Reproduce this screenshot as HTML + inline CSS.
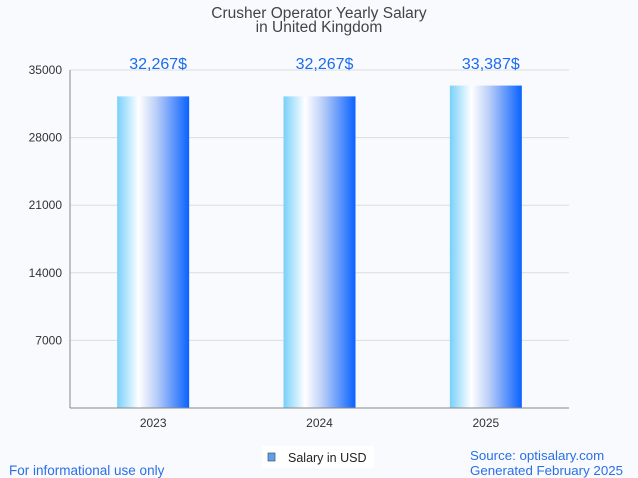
<!DOCTYPE html>
<html><head><meta charset="utf-8"><style>
body{margin:0;background:#f9fafd;font-family:"Liberation Sans",sans-serif;}
svg{display:block}
</style></head><body>
<svg id="c" width="638" height="478">
<defs><linearGradient id="g" x1="0" x2="1" y1="0" y2="0">
<stop offset="0" stop-color="#78d0fa"/><stop offset="0.3" stop-color="#ffffff"/><stop offset="0.55" stop-color="#b8cdf8"/><stop offset="1" stop-color="#0a62ff"/></linearGradient></defs>
<text x="319" y="18" text-anchor="middle" font-size="15.5" fill="#444">Crusher Operator Yearly Salary</text>
<text x="319" y="32" text-anchor="middle" font-size="15.5" fill="#444">in United Kingdom</text>
<g id="grid"></g><g id="bars"></g>
<line x1="70" y1="70" x2="70" y2="408" stroke="#888"/>
<line x1="70" y1="408" x2="569" y2="408" stroke="#888"/>
<rect x="262" y="446" width="112" height="22" fill="#fff"/>
<rect x="268" y="453" width="7" height="8" fill="#5aa0ea" stroke="#456" stroke-width="0.7"/>
<text x="288" y="462" font-size="12.5" fill="#222">Salary in USD</text>
<text x="9" y="475" font-size="13.5" fill="#2a6fe8">For informational use only</text>
<text x="470" y="460" font-size="13.3" fill="#2a6fe8">Source: optisalary.com</text>
<text x="470" y="475" font-size="13.3" fill="#2a6fe8">Generated February 2025</text>
</svg>
<script>
const categories=["2023","2024","2025"];
const values=[32267,32267,33387];
const valueLabels=["32,267$","32,267$","33,387$"];
const yTicks=[7000,14000,21000,28000,35000];
const NS="http://www.w3.org/2000/svg";
const y=v=>408-v/35000*338;
const x=i=>70+(i+0.5)*(499/categories.length);
function mk(t,a,p,txt){const e=document.createElementNS(NS,t);for(const k in a)e.setAttribute(k,a[k]);if(txt)e.textContent=txt;p.appendChild(e);return e;}
const grid=document.getElementById('grid'),bars=document.getElementById('bars');
yTicks.forEach(t=>{
 const l=mk('line',{x1:70,x2:569,y1:y(t),y2:y(t),stroke:'#ddd'},grid);
 
 
 const tx=mk('text',{x:62,y:y(t)+4,'text-anchor':'end','font-size':12,fill:'#333'},grid,String(t));
 
 
});
categories.forEach((c,i)=>{
 const r=mk('rect',{x:x(i)-36,y:y(values[i]),width:72,height:408-y(values[i]),fill:'url(#g)'},bars);
 
 
 const v=mk('text',{x:x(i)+5,y:69,'text-anchor':'middle','font-size':16,fill:'#1a6cf0'},bars,valueLabels[i]);
 
 
 const t=mk('text',{x:x(i),y:427,'text-anchor':'middle','font-size':12,fill:'#333'},bars,c);
 
 
});
</script>
</body></html>
